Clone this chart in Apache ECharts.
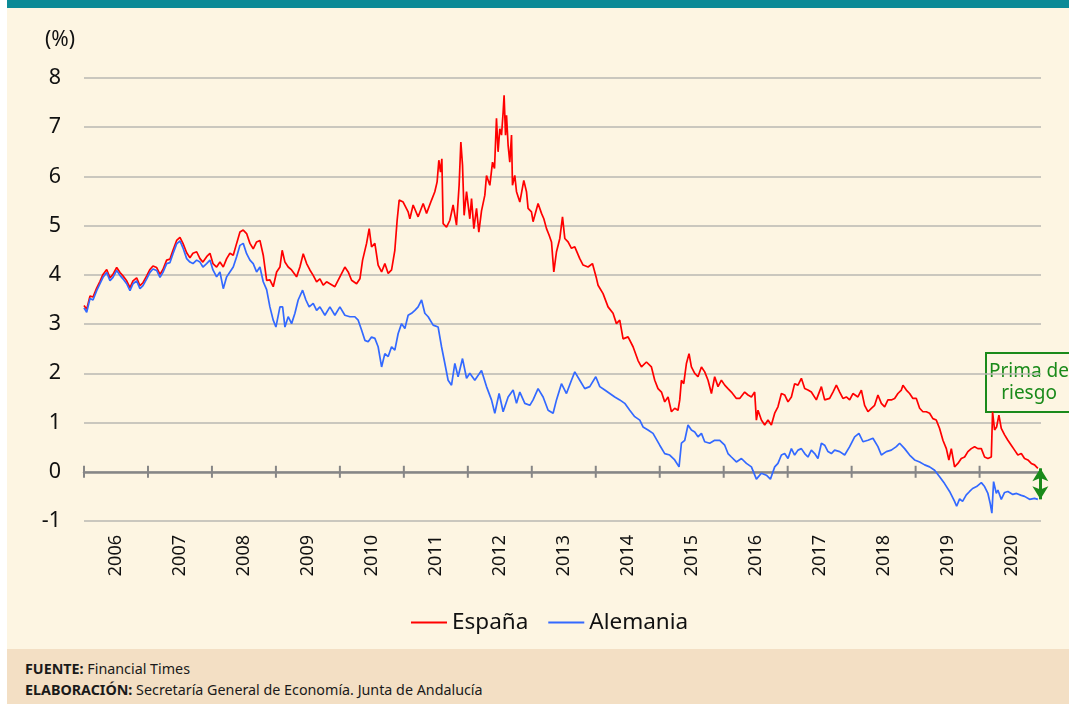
<!DOCTYPE html>
<html>
<head>
<meta charset="utf-8">
<script src="https://cdn.jsdelivr.net/npm/echarts@6/dist/echarts.min.js"></script>
<style>
  html, body { margin: 0; padding: 0; background: #ffffff; width: 1069px; height: 704px; overflow: hidden; }
  #topbar { position: absolute; left: 7px; top: 0; width: 1062px; height: 8px; background: #0b8a96; }
  #main { position: absolute; left: 7px; top: 8px; width: 1062px; height: 641px; background: #fdf5e2; }
  #footer { position: absolute; left: 7px; top: 649px; width: 1062px; height: 55px; background: #f3dfc4;
            font-family: "Noto Sans", sans-serif; font-size: 14.3px; color: #1a1a1a;
            box-sizing: border-box; padding: 9px 0 0 18px; line-height: 21px; }
  #footer b { font-weight: bold; }
</style>
</head>
<body>
<div id="topbar"></div>
<div id="main"></div>
<div id="footer">
  <div><b>FUENTE:</b> Financial Times</div>
  <div><b>ELABORACIÓN:</b> Secretaría General de Economía. Junta de Andalucía</div>
</div>
<script>
// ---------------- DATA ----------------
const yearLabels = ['2006','2007','2008','2009','2010','2011','2012','2013','2014','2015','2016','2017','2018','2019','2020'];
const seriesNames = ['España', 'Alemania'];

const spainDates = [
2006.000,2006.042,2006.094,2006.141,2006.198,2006.250,2006.297,2006.355,2006.406,2006.453,2006.511,2006.563,2006.609,2006.667,2006.719,2006.766,2006.823,2006.875,2006.922,2006.980,
2007.031,2007.078,2007.136,2007.188,2007.234,2007.292,2007.344,2007.391,2007.448,2007.500,2007.547,2007.605,2007.656,2007.703,2007.761,2007.813,2007.859,2007.917,2007.969,
2008.016,2008.073,2008.125,2008.177,2008.230,2008.281,2008.333,2008.386,2008.438,2008.489,2008.542,2008.594,2008.645,2008.698,2008.750,2008.802,2008.855,2008.906,2008.958,
2009.011,2009.063,2009.098,2009.141,2009.192,2009.245,2009.323,2009.375,2009.427,2009.480,2009.531,2009.583,2009.636,2009.688,2009.739,2009.792,2009.844,2009.922,
2010.000,2010.078,2010.130,2010.183,2010.261,2010.313,2010.355,2010.417,2010.458,2010.495,2010.547,2010.598,2010.652,2010.703,2010.755,2010.808,2010.859,2010.895,2010.927,2010.989,
2011.067,2011.094,2011.145,2011.223,2011.302,2011.355,2011.433,2011.484,2011.520,2011.547,2011.573,2011.594,2011.614,2011.667,2011.719,2011.770,2011.823,2011.864,2011.891,2011.917,2011.942,2011.980,
2012.031,2012.058,2012.094,2012.136,2012.172,2012.214,2012.266,2012.292,2012.344,2012.386,2012.417,2012.448,2012.473,2012.500,2012.527,2012.552,2012.567,2012.589,2012.605,2012.630,2012.656,2012.683,2012.698,2012.734,2012.761,2012.813,2012.875,2012.917,2012.942,2012.995,
2013.020,2013.098,2013.152,2013.188,2013.230,2013.270,2013.308,2013.344,2013.386,2013.438,2013.480,2013.516,2013.567,2013.620,2013.672,2013.750,2013.802,2013.880,2013.948,
2014.011,2014.036,2014.114,2014.192,2014.270,2014.323,2014.375,2014.427,2014.505,2014.583,2014.661,2014.714,2014.792,2014.870,2014.922,2014.973,
2015.027,2015.078,2015.130,2015.183,2015.234,2015.286,2015.313,2015.339,2015.375,2015.417,2015.458,2015.495,2015.547,2015.598,2015.652,2015.703,2015.755,2015.808,2015.859,2015.911,2015.964,
2016.016,2016.067,2016.120,2016.198,2016.250,2016.328,2016.380,2016.433,2016.484,2016.511,2016.536,2016.589,2016.641,2016.692,2016.745,2016.797,2016.848,2016.902,2016.953,
2017.005,2017.058,2017.109,2017.161,2017.214,2017.266,2017.317,2017.370,2017.448,2017.527,2017.578,2017.656,2017.708,2017.761,2017.813,2017.864,2017.917,2017.969,
2018.020,2018.098,2018.152,2018.203,2018.255,2018.308,2018.359,2018.411,2018.464,2018.516,2018.567,2018.620,2018.672,2018.723,2018.777,2018.802,2018.855,2018.906,2018.958,
2019.011,2019.063,2019.114,2019.167,2019.219,2019.270,2019.323,2019.375,2019.427,2019.480,2019.520,2019.558,2019.609,2019.661,2019.714,2019.766,2019.817,2019.870,2019.922,2019.973,
2020.027,2020.078,2020.130,2020.183,2020.203,2020.234,2020.266,2020.302,2020.339,2020.391,2020.442,2020.495,2020.547,2020.598,2020.652,2020.703,2020.755,2020.808,2020.859,2020.911
];
const spainValues = [
3.38,3.30,3.57,3.55,3.73,3.87,4.01,4.11,3.94,4.01,4.15,4.05,3.98,3.88,3.74,3.88,3.94,3.78,3.84,3.98,
4.11,4.18,4.15,4.01,4.11,4.30,4.32,4.50,4.70,4.76,4.64,4.45,4.35,4.44,4.47,4.33,4.26,4.37,4.44,
4.23,4.16,4.26,4.16,4.33,4.44,4.40,4.64,4.87,4.91,4.84,4.64,4.53,4.67,4.70,4.40,3.89,3.90,3.76,
4.06,4.16,4.50,4.26,4.16,4.10,3.96,4.16,4.43,4.23,4.10,3.99,3.86,3.92,3.79,3.86,3.82,3.76,
3.96,4.16,4.06,3.89,3.82,3.92,4.30,4.64,4.94,4.57,4.64,4.20,4.06,4.23,4.03,4.10,4.50,5.11,5.52,5.48,
5.28,5.14,5.42,5.18,5.45,5.25,5.52,5.69,5.89,6.33,6.09,6.36,5.04,4.97,5.11,5.42,5.01,5.82,6.70,6.23,5.21,5.69,
5.14,5.55,4.94,5.35,4.87,5.30,5.62,6.02,5.82,6.29,6.16,7.18,6.50,6.97,6.84,7.31,7.65,6.84,7.24,6.63,6.29,6.84,5.82,6.02,5.69,5.48,5.92,5.69,5.35,5.28,
5.08,5.45,5.25,5.14,4.94,4.81,4.67,4.06,4.47,4.74,5.18,4.74,4.67,4.54,4.57,4.33,4.20,4.16,4.23,
3.93,3.79,3.62,3.35,3.22,3.01,3.08,2.70,2.74,2.54,2.26,2.13,2.23,2.13,1.86,1.69,
1.62,1.42,1.52,1.22,1.29,1.25,1.46,1.86,1.79,2.20,2.40,2.13,2.00,1.93,2.13,2.03,1.86,1.59,1.93,1.73,1.86,
1.76,1.69,1.62,1.49,1.49,1.62,1.56,1.52,1.62,1.05,1.25,1.05,0.95,1.05,0.95,1.19,1.32,1.59,1.56,
1.42,1.52,1.79,1.76,1.90,1.69,1.66,1.62,1.46,1.73,1.46,1.49,1.62,1.76,1.62,1.49,1.52,1.46,
1.59,1.52,1.66,1.35,1.22,1.29,1.35,1.56,1.39,1.32,1.46,1.46,1.49,1.59,1.66,1.76,1.66,1.59,1.49,
1.49,1.29,1.22,1.22,1.19,1.08,1.05,0.88,0.64,0.47,0.24,0.47,0.10,0.17,0.27,0.30,0.41,0.47,0.51,0.47,
0.47,0.30,0.27,0.30,1.22,0.85,0.91,1.15,0.88,0.75,0.64,0.54,0.44,0.34,0.37,0.27,0.24,0.17,0.14,0.07
];

const germanyDates = [
2006.000,2006.042,2006.094,2006.141,2006.198,2006.250,2006.297,2006.355,2006.406,2006.453,2006.511,2006.563,2006.609,2006.667,2006.719,2006.766,2006.823,2006.875,2006.922,2006.980,
2007.031,2007.078,2007.136,2007.188,2007.234,2007.292,2007.344,2007.391,2007.448,2007.500,2007.547,2007.605,2007.656,2007.703,2007.761,2007.813,2007.859,2007.917,2007.969,
2008.016,2008.073,2008.125,2008.177,2008.230,2008.281,2008.333,2008.386,2008.438,2008.489,2008.542,2008.594,2008.645,2008.698,2008.750,2008.802,2008.855,2008.906,2008.958,
2009.000,2009.063,2009.105,2009.141,2009.192,2009.245,2009.297,2009.348,2009.417,2009.469,2009.520,2009.583,2009.636,2009.688,2009.766,2009.844,2009.922,
2010.000,2010.078,2010.156,2010.234,2010.286,2010.339,2010.391,2010.442,2010.495,2010.547,2010.598,2010.652,2010.703,2010.755,2010.808,2010.859,2010.911,2010.964,
2011.016,2011.067,2011.120,2011.172,2011.223,2011.277,2011.328,2011.380,2011.458,2011.536,2011.589,2011.641,2011.692,2011.745,2011.797,2011.848,2011.917,2011.980,
2012.031,2012.109,2012.214,2012.292,2012.370,2012.422,2012.489,2012.552,2012.630,2012.708,2012.761,2012.813,2012.891,2012.969,
2013.020,2013.098,2013.177,2013.255,2013.333,2013.386,2013.464,2013.542,2013.620,2013.672,2013.750,2013.828,2013.906,
2014.000,2014.063,2014.141,2014.219,2014.297,2014.375,2014.453,2014.531,2014.609,2014.688,2014.739,2014.817,2014.895,
2015.000,2015.078,2015.156,2015.234,2015.302,2015.339,2015.391,2015.442,2015.495,2015.547,2015.598,2015.652,2015.703,2015.781,2015.859,2015.938,
2016.016,2016.067,2016.120,2016.198,2016.277,2016.355,2016.433,2016.511,2016.589,2016.667,2016.730,2016.797,2016.848,2016.902,2016.953,
2017.005,2017.058,2017.109,2017.161,2017.214,2017.266,2017.317,2017.370,2017.422,2017.473,2017.527,2017.578,2017.630,2017.683,2017.734,2017.813,2017.891,2017.969,
2018.047,2018.114,2018.177,2018.255,2018.333,2018.411,2018.464,2018.542,2018.620,2018.698,2018.750,2018.828,2018.906,2018.984,
2019.063,2019.141,2019.219,2019.297,2019.375,2019.453,2019.531,2019.609,2019.641,2019.688,2019.734,2019.792,2019.844,2019.891,2019.953,
2020.027,2020.078,2020.130,2020.167,2020.192,2020.219,2020.261,2020.286,2020.339,2020.391,2020.442,2020.520,2020.578,2020.652,2020.703,2020.781,2020.859,2020.911
];
const germanyValues = [
3.33,3.24,3.52,3.49,3.68,3.82,3.95,4.05,3.88,3.95,4.09,3.99,3.92,3.82,3.68,3.82,3.88,3.72,3.78,3.92,
4.05,4.12,4.09,3.95,4.05,4.23,4.25,4.43,4.63,4.69,4.55,4.33,4.26,4.23,4.30,4.26,4.16,4.23,4.30,
4.10,3.96,4.06,3.72,3.96,4.06,4.16,4.37,4.60,4.64,4.43,4.30,4.23,4.06,4.16,3.86,3.70,3.35,3.08,
2.94,3.35,3.35,2.94,3.15,3.01,3.22,3.49,3.69,3.49,3.35,3.42,3.28,3.35,3.18,3.35,3.18,
3.35,3.18,3.15,3.15,3.08,2.88,2.67,2.64,2.74,2.71,2.54,2.13,2.40,2.34,2.54,2.47,2.81,3.01,
2.91,3.18,3.22,3.28,3.35,3.49,3.22,3.15,2.98,2.94,2.54,2.20,1.86,1.76,2.20,1.93,2.30,1.90,
2.00,1.86,2.06,1.73,1.46,1.19,1.59,1.22,1.52,1.66,1.39,1.62,1.39,1.35,
1.46,1.69,1.52,1.25,1.19,1.46,1.79,1.59,1.86,2.03,1.86,1.69,1.73,
1.93,1.73,1.66,1.59,1.52,1.46,1.39,1.25,1.12,1.05,0.91,0.85,0.78,
0.54,0.37,0.34,0.24,0.10,0.58,0.64,0.95,0.85,0.81,0.71,0.78,0.61,0.58,0.64,0.64,
0.54,0.37,0.30,0.20,0.27,0.17,0.10,-0.15,-0.03,-0.07,-0.15,0.10,0.17,0.34,0.37,
0.27,0.47,0.34,0.44,0.47,0.37,0.30,0.44,0.37,0.27,0.58,0.54,0.41,0.37,0.44,0.41,0.34,0.51,
0.71,0.78,0.61,0.64,0.68,0.51,0.34,0.41,0.44,0.51,0.58,0.47,0.34,0.24,
0.20,0.14,0.10,0.03,-0.10,-0.24,-0.40,-0.60,-0.70,-0.55,-0.60,-0.47,-0.40,-0.34,-0.30,
-0.22,-0.30,-0.44,-0.65,-0.84,-0.20,-0.44,-0.37,-0.56,-0.42,-0.40,-0.46,-0.44,-0.48,-0.50,-0.56,-0.54,-0.56
];

const yTicks = { min: -1, max: 8, step: 1 };
const annotationText = ['Prima de', 'riesgo'];

// ---------------- CHART ----------------
const zip = (xs, ys) => xs.map((x, i) => [x, ys[i]]);
const yearTicks = yearLabels.map(Number);
const chart = echarts.init(document.getElementById('main'), null, { renderer: 'canvas' });

const X_MIN = 2006, X_MAX = 2020.96;
const arrowX = 2020.95;
const lastSpain = spainValues[spainValues.length - 1];
const lastGermany = germanyValues[germanyValues.length - 1];
const FONT = '"Noto Sans", "Open Sans", sans-serif';
const AXIS_GREY = '#868686';

chart.setOption({
  animation: false,
  backgroundColor: '#fdf5e2',
  textStyle: { fontFamily: FONT },
  grid: [
    { left: 77, top: 70, width: 957, height: 443, containLabel: false },
    { left: 77, top: 70, width: 960, height: 443, containLabel: false }
  ],
  legend: {
    left: 404, top: 603, padding: 0,
    icon: 'rect', itemWidth: 36, itemHeight: 2, itemGap: 20,
    textStyle: { fontSize: 22.5, color: '#111', fontFamily: FONT },
    data: seriesNames
  },
  xAxis: [
    { type: 'value', gridIndex: 0, min: X_MIN, max: X_MAX, interval: 1,
      axisLine: { show: true, onZero: true, lineStyle: { color: AXIS_GREY, width: 2.5 } },
      axisTick: { show: false },
      axisLabel: { show: false }, splitLine: { show: false } },
    { type: 'category', gridIndex: 1, data: yearLabels, boundaryGap: true, position: 'bottom',
      axisLine: { show: false }, axisTick: { show: false }, splitLine: { show: false },
      axisLabel: { rotate: 90, fontSize: 18, color: '#111', margin: 14, fontFamily: FONT } }
  ],
  yAxis: [
    { type: 'value', gridIndex: 0, min: yTicks.min, max: yTicks.max, interval: yTicks.step,
      name: '(%)', nameLocation: 'end', nameGap: 27,
      nameTextStyle: { fontSize: 21, color: '#111', align: 'right', padding: [0, 9, 0, 0], fontFamily: FONT },
      axisLine: { show: false }, axisTick: { show: false },
      axisLabel: { fontSize: 21.5, color: '#111', margin: 23, fontFamily: FONT },
      splitLine: { show: true, lineStyle: { color: '#b9b7b2', width: 1.5 } } },
    { type: 'value', gridIndex: 1, min: 0, max: 1, show: false }
  ],
  graphic: [
    { type: 'group', left: 978, top: 344, children: [
      { type: 'rect', shape: { x: 0, y: 0, width: 90, height: 59 },
        style: { fill: '#fdf5e2', stroke: '#1a8a1a', lineWidth: 2 } },
      { type: 'text', x: 43, y: 29.5,
        style: { text: annotationText.join('\n'), fill: '#1a8a1a', fontSize: 19, lineHeight: 22,
                 fontFamily: FONT, align: 'center', verticalAlign: 'middle' } }
    ] }
  ],
  series: [
    { name: 'yearTicks', type: 'custom', xAxisIndex: 0, yAxisIndex: 0, silent: true, z: 1,
      data: yearTicks.map(y => [y, 0]),
      renderItem: (params, api) => {
        const p = api.coord([api.value(0), api.value(1)]);
        return { type: 'line', shape: { x1: p[0], y1: p[1] - 6, x2: p[0], y2: p[1] + 6 },
                 style: { stroke: AXIS_GREY, lineWidth: 2 } };
      } },
    { name: seriesNames[0], type: 'line', xAxisIndex: 0, yAxisIndex: 0,
      data: zip(spainDates, spainValues), showSymbol: false, symbol: 'none',
      lineStyle: { color: '#ff0000', width: 1.7 }, itemStyle: { color: '#ff0000' }, z: 3 },
    { name: seriesNames[1], type: 'line', xAxisIndex: 0, yAxisIndex: 0,
      data: zip(germanyDates, germanyValues), showSymbol: false, symbol: 'none',
      lineStyle: { color: '#3369ff', width: 1.7 }, itemStyle: { color: '#3369ff' }, z: 4,
      markLine: {
        silent: true, animation: false,
        symbol: ['arrow', 'arrow'], symbolSize: [12, 13],
        label: { show: false },
        lineStyle: { color: '#1a8a1a', width: 3, type: 'solid' },
        emphasis: { disabled: true },
        data: [[ { coord: [arrowX, lastSpain] }, { coord: [arrowX, lastGermany] } ]]
      } }
  ]
});
</script>
</body>
</html>
